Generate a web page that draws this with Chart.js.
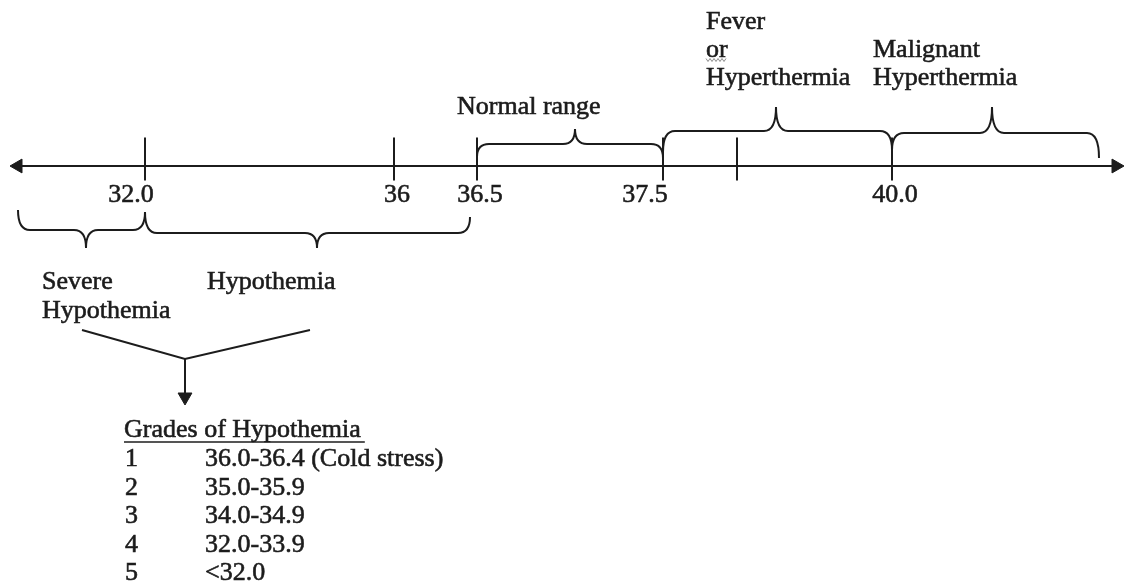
<!DOCTYPE html>
<html lang="en">
<head>
    <meta charset="UTF-8">
    <title>Body temperature ranges</title>
    <style>
        html, body {
            margin: 0;
            padding: 0;
            background: #fff;
        }
        .chart-box {
            position: relative;
            width: 1127px;
            height: 583px;
        }
    </style>
</head>
<body>
    <div class="chart-box">
        <canvas id="tempChart"></canvas>
    </div>

    <script src="https://cdn.jsdelivr.net/npm/chart.js"></script>
    <script>
        // the drawn number line is not linear in degrees, so tick places are read off the picture
        const tickPositions = [145, 394, 477, 663, 737, 892];
        const tickLabels = ['32.0', '36', '36.5', '37.5', '', '40.0'];

        const rangeLabels = [
            ['Normal range'],
            ['Fever', 'or', 'Hyperthermia'],
            ['Malignant', 'Hyperthermia'],
            ['Severe', 'Hypothemia'],
            ['Hypothemia']
        ];
        const rangeStart = [477, 663, 892, 18, 145];
        const rangeEnd = [663, 892, 1099, 145, 470];

        const gradesTitle = 'Grades of Hypothemia';
        const gradeNumbers = ['1', '2', '3', '4', '5'];
        const gradeRanges = ['36.0-36.4 (Cold stress)', '35.0-35.9', '34.0-34.9', '32.0-33.9', '<32.0'];

        // layout bits
        const AXIS_Y = 166;
        const INK = '#1c1c1c';
        const FONT = '26px "Liberation Serif", "Times New Roman", serif';
        const labelShift = [-14, 3, 3, -18, 0, 3];
        const braceShape = [
            { y1: 157, y2: 158, bar: 144, tipX: 575, tipY: 129 },
            { y1: 152, y2: 150, bar: 131, tipX: 776, tipY: 107 },
            { y1: 150, y2: 158, bar: 133, tipX: 992, tipY: 107 },
            { y1: 210, y2: 212, bar: 230, tipX: 86, tipY: 248 },
            { y1: 212, y2: 217, bar: 233, tipX: 317, tipY: 248 }
        ];
        const labelPlace = [
            { x: 457, y: [114] },
            { x: 706, y: [29, 57, 85] },
            { x: 873, y: [57, 85] },
            { x: 42, y: [289, 318] },
            { x: 207, y: [289] }
        ];

        function drawBrace(ctx, x1, x2, s, xs, ys) {
            const r = 12;
            const px = v => xs.getPixelForValue(v);
            const py = v => ys.getPixelForValue(v);
            ctx.beginPath();
            ctx.moveTo(px(x1), py(s.y1));
            ctx.quadraticCurveTo(px(x1), py(s.bar), px(x1 + r), py(s.bar));
            ctx.lineTo(px(s.tipX - r), py(s.bar));
            ctx.quadraticCurveTo(px(s.tipX), py(s.bar), px(s.tipX), py(s.tipY));
            ctx.quadraticCurveTo(px(s.tipX), py(s.bar), px(s.tipX + r), py(s.bar));
            ctx.lineTo(px(x2 - r), py(s.bar));
            ctx.quadraticCurveTo(px(x2), py(s.bar), px(x2), py(s.y2));
            ctx.stroke();
        }

        // the scan has heavier type than a plain canvas fill, so add a hairline stroke
        function text(ctx, str, x, y) {
            ctx.fillText(str, x, y);
            ctx.save();
            ctx.lineWidth = 0.6;
            ctx.strokeText(str, x, y);
            ctx.restore();
        }

        const diagramPlugin = {
            id: 'diagram',
            afterDatasetsDraw(chart) {
                const ctx = chart.ctx;
                const xs = chart.scales.x;
                const ys = chart.scales.y;
                ctx.save();
                ctx.strokeStyle = INK;
                ctx.fillStyle = INK;
                ctx.lineWidth = 2;
                ctx.font = FONT;
                ctx.textBaseline = 'alphabetic';

                // tick labels
                ctx.textAlign = 'center';
                tickPositions.forEach((p, i) => {
                    if (!tickLabels[i]) return;
                    text(ctx, tickLabels[i], xs.getPixelForValue(p + labelShift[i]), ys.getPixelForValue(202));
                });

                // braces and their names
                ctx.textAlign = 'left';
                rangeStart.forEach((start, i) => {
                    drawBrace(ctx, start, rangeEnd[i], braceShape[i], xs, ys);
                    rangeLabels[i].forEach((line, j) => {
                        text(ctx, line, xs.getPixelForValue(labelPlace[i].x), ys.getPixelForValue(labelPlace[i].y[j]));
                    });
                });

                // the squiggle Word left under "or"
                ctx.save();
                ctx.strokeStyle = '#8c8c8c';
                ctx.lineWidth = 1;
                ctx.beginPath();
                for (let k = 0; k <= 10; k++) {
                    const wx = xs.getPixelForValue(706 + k * 2);
                    const wy = ys.getPixelForValue(60 + (k % 2 ? 1.5 : -1.5));
                    if (k === 0) ctx.moveTo(wx, wy); else ctx.lineTo(wx, wy);
                }
                ctx.stroke();
                ctx.restore();

                // grades table
                const titleX = xs.getPixelForValue(124);
                const titleY = ys.getPixelForValue(437);
                text(ctx, gradesTitle, titleX, titleY);
                const w = ctx.measureText(gradesTitle).width;
                ctx.lineWidth = 1.5;
                ctx.beginPath();
                ctx.moveTo(titleX, titleY + 5);
                ctx.lineTo(titleX + w + 4, titleY + 5);
                ctx.stroke();
                gradeNumbers.forEach((n, i) => {
                    const rowY = ys.getPixelForValue(466 + 28.5 * i);
                    text(ctx, n, xs.getPixelForValue(125), rowY);
                    text(ctx, gradeRanges[i], xs.getPixelForValue(205), rowY);
                });
                ctx.restore();
            }
        };

        new Chart(document.getElementById('tempChart'), {
            type: 'scatter',
            data: {
                datasets: [
                    {
                        // number line with arrow heads at both ends
                        data: [{ x: 18, y: AXIS_Y }, { x: 1116, y: AXIS_Y }],
                        showLine: true,
                        borderColor: INK,
                        borderWidth: 2,
                        pointStyle: 'triangle',
                        pointRadius: 8,
                        pointRotation: c => c.dataIndex === 0 ? -90 : 90,
                        pointBackgroundColor: INK,
                        pointBorderColor: INK,
                        pointBorderWidth: 1
                    },
                    {
                        // tick marks
                        data: tickPositions.map(p => ({ x: p, y: AXIS_Y - 7 })),
                        pointStyle: 'line',
                        pointRadius: 21.5,
                        pointRotation: 90,
                        pointBorderColor: INK,
                        pointBorderWidth: 2
                    },
                    {
                        // both hypothermia groups join here
                        data: [{ x: 82, y: 330 }, { x: 185, y: 359 }, { x: 310, y: 330 }],
                        showLine: true,
                        borderColor: INK,
                        borderWidth: 2,
                        pointRadius: 0
                    },
                    {
                        // arrow down to the grades
                        data: [{ x: 185, y: 359 }, { x: 185, y: 397 }],
                        showLine: true,
                        borderColor: INK,
                        borderWidth: 2,
                        pointStyle: 'triangle',
                        pointRadius: c => c.dataIndex === 1 ? 8 : 0,
                        pointRotation: 180,
                        pointBackgroundColor: INK,
                        pointBorderColor: INK,
                        pointBorderWidth: 1
                    }
                ]
            },
            options: {
                responsive: true,
                maintainAspectRatio: false,
                animation: false,
                events: [],
                layout: { padding: 0, autoPadding: false },
                plugins: {
                    legend: { display: false },
                    tooltip: { enabled: false }
                },
                scales: {
                    x: { type: 'linear', min: 0, max: 1127, display: false },
                    y: { type: 'linear', min: 0, max: 583, reverse: true, display: false }
                }
            },
            plugins: [diagramPlugin]
        });
    </script>
</body>
</html>
